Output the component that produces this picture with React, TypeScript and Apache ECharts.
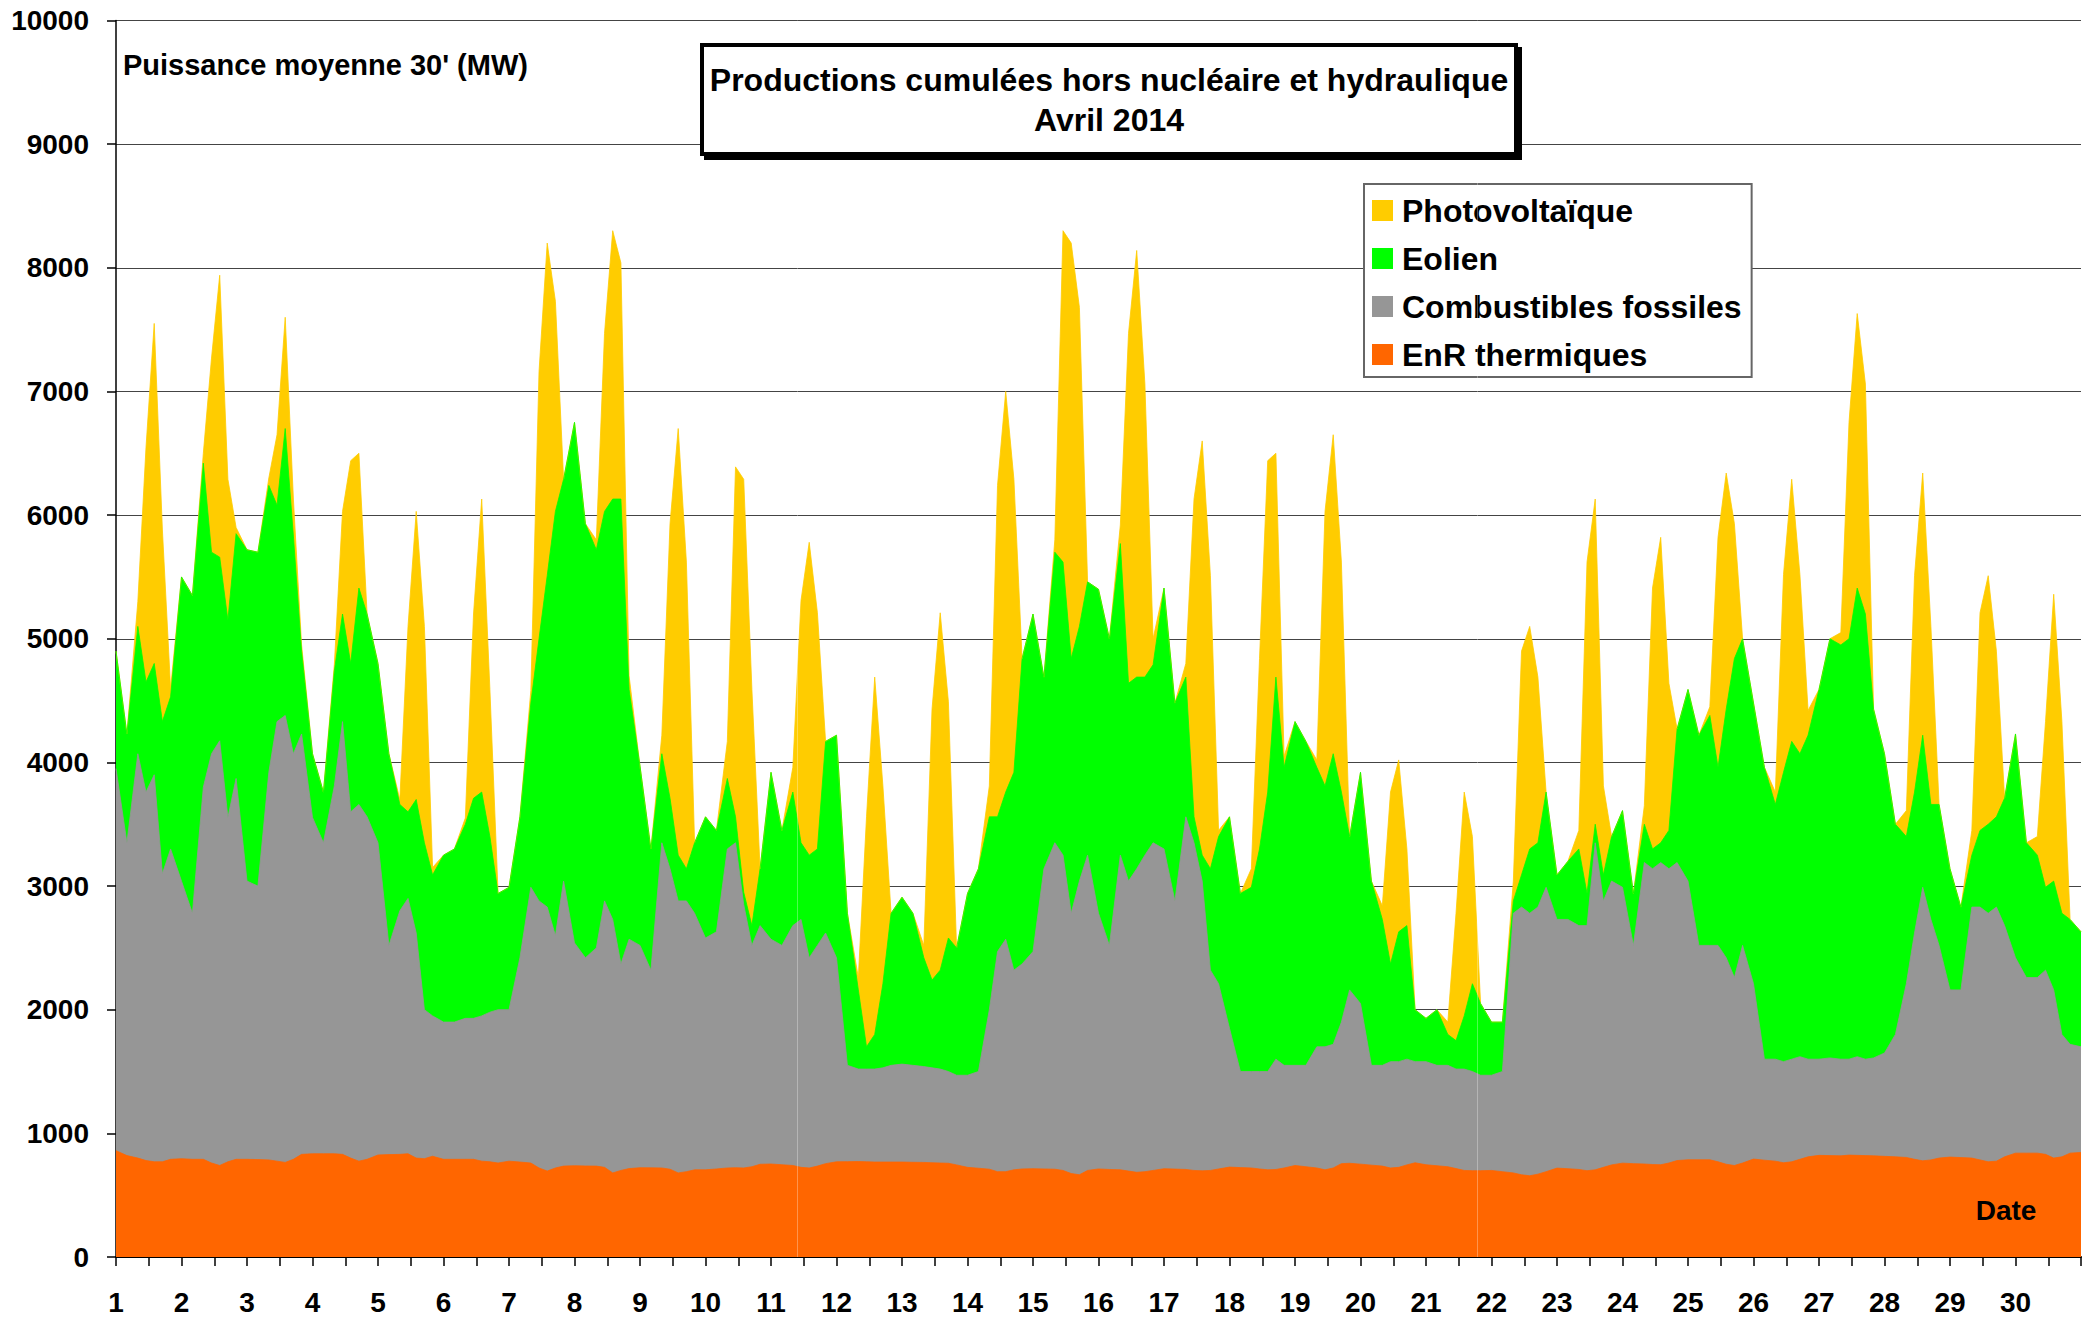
import React, { useEffect, useRef } from "react";
import * as echarts from "echarts";

// Days of April 2014 and the sampled hours of each day
const DAYS = [1, 2, 3, 4, 5, 6, 7, 8, 9, 10, 11, 12, 13, 14, 15, 16, 17, 18, 19, 20, 21, 22, 23, 24, 25, 26, 27, 28, 29, 30];
const HOURS = [0, 4, 8, 11, 14, 17, 20];
const LAST_DAY_END = 31;

// MW, one row per day (hours 0, 4, 8, 11, 14, 17, 20), final value = 1 May 00:00
const ENR_THERMIQUES = [
  860, 820, 800, 780, 770, 770, 790,
  795, 790, 790, 760, 740, 770, 790,
  790, 788, 785, 775, 765, 790, 830,
  835, 835, 835, 830, 800, 775, 790,
  825, 828, 830, 835, 800, 795, 815,
  790, 790, 790, 790, 775, 770, 760,
  775, 768, 760, 720, 695, 720, 735,
  738, 736, 735, 725, 680, 700, 715,
  722, 721, 720, 710, 680, 690, 705,
  705, 712, 720, 722, 720, 730, 750,
  752, 746, 740, 725, 720, 735, 755,
  770, 771, 772, 770, 768, 768, 768,
  768, 766, 765, 762, 760, 758, 745,
  725, 718, 710, 690, 690, 705, 712,
  714, 712, 710, 700, 675, 665, 700,
  712, 708, 705, 695, 685, 690, 700,
  714, 711, 708, 700, 697, 700, 712,
  727, 723, 720, 712, 705, 708, 720,
  740, 730, 720, 705, 720, 755, 758,
  751, 743, 735, 720, 725, 745, 762,
  746, 738, 730, 715, 700, 698, 698,
  700, 690, 680, 665, 657, 670, 690,
  719, 714, 708, 698, 705, 725, 745,
  759, 755, 752, 748, 746, 760, 780,
  786, 786, 786, 770, 750, 740, 760,
  792, 783, 775, 762, 770, 790, 810,
  822, 820, 818, 824, 822, 820, 818,
  814, 810, 805, 790, 778, 785, 800,
  808, 804, 800, 785, 770, 775, 810,
  840, 840, 840, 830, 800, 810, 840,
  846,
];

const COMBUSTIBLES_FOSSILES = [
  3090, 2530, 3270, 2980, 3130, 2330, 2510,
  2245, 1990, 3010, 3310, 3435, 2785, 3080,
  2250, 2212, 3135, 3555, 3615, 3280, 3400,
  2720, 2515, 2975, 3500, 2800, 2885, 2770,
  2525, 1692, 1970, 2065, 1820, 1205, 1135,
  1110, 1110, 1140, 1140, 1175, 1210, 1240,
  1225, 1652, 2230, 2160, 2135, 1880, 2305,
  1802, 1684, 1765, 2155, 2050, 1670, 1855,
  1798, 1599, 2630, 2430, 2200, 2190, 2075,
  1875, 1918, 2580, 2628, 2130, 1790, 1930,
  1818, 1774, 1940, 2005, 1700, 1785, 1865,
  1650, 779, 748, 750, 752, 762, 782,
  792, 784, 775, 768, 760, 742, 725,
  745, 782, 1290, 1780, 1880, 1615, 1658,
  1756, 2428, 2640, 2550, 2105, 2375, 2550,
  2068, 1812, 2545, 2345, 2455, 2560, 2650,
  2586, 2169, 2852, 2650, 2343, 1620, 1498,
  1123, 777, 780, 788, 795, 892, 830,
  810, 820, 980, 995, 1000, 1145, 1402,
  1299, 807, 815, 860, 855, 855, 818,
  834, 812, 820, 805, 820, 802, 772,
  770, 810, 2100, 2165, 2123, 2160, 2300,
  2011, 2016, 1972, 1982, 2645, 2155, 2295,
  2231, 1765, 2438, 2392, 2444, 2380, 2410,
  2254, 1734, 1734, 1750, 1670, 1520, 1760,
  1418, 817, 825, 818, 830, 830, 790,
  778, 790, 782, 776, 798, 780, 792,
  836, 990, 1405, 1830, 2212, 1945, 1720,
  1352, 1356, 2030, 2045, 2010, 2055, 1870,
  1580, 1420, 1420, 1490, 1360, 990, 880,
  854,
];

const EOLIEN = [
  950, 880, 1030, 890, 900, 1230, 1230,
  2460, 2570, 2620, 1630, 1485, 1595, 1980,
  2680, 2700, 2320, 1750, 2320, 1760, 670,
  515, 410, 930, 870, 1200, 1750, 1640,
  1450, 1550, 860, 700, 1080, 1350, 1140,
  1350, 1400, 1570, 1780, 1810, 1420, 940,
  990, 1140, 1490, 2120, 2680, 3430, 3250,
  4210, 3510, 3220, 3150, 3400, 3760, 2020,
  1450, 980, 720, 570, 370, 260, 570,
  980, 820, 570, 210, 100, 160, 460,
  1350, 930, 1080, 620, 830, 780, 1550,
  1800, 1230, 640, 180, 280, 680, 1230,
  1350, 1230, 880, 710, 800, 1080, 1030,
  1470, 1640, 1560, 1090, 1190, 1600, 2470,
  2730, 1550, 2350, 2370, 2060, 2060, 2210,
  2620, 2480, 2520, 1600, 1550, 1440, 1440,
  2110, 1600, 1130, 210, 210, 820, 1190,
  1710, 1440, 1490, 1800, 2260, 3090, 2410,
  2780, 2620, 2260, 2110, 2350, 1860, 1240,
  1870, 1490, 1180, 790, 1050, 1080, 420,
  350, 450, 250, 230, 430, 710, 580,
  430, 400, 100, 260, 520, 520, 770,
  360, 470, 620, 260, 150, 210, 360,
  620, 420, 310, 160, 160, 310, 1080,
  1550, 1700, 1860, 1440, 2010, 2580, 2480,
  2270, 2360, 2060, 2340, 2570, 2450, 2620,
  2990, 3390, 3350, 3400, 3790, 3600, 2820,
  2420, 1700, 1190, 1140, 1230, 930, 1140,
  980, 670, 420, 620, 720, 730, 1030,
  1810, 1090, 990, 670, 880, 980, 1010,
  930,
];

const PHOTOVOLTAIQUE = [
  0, 0, 200, 1900, 2750, 1550, 70,
  0, 0, 80, 1570, 2280, 1140, 50,
  0, 0, 60, 570, 900, 300, 50,
  0, 0, 50, 830, 1640, 1090, 0,
  0, 0, 40, 1500, 2330, 1750, 60,
  0, 0, 50, 1490, 2370, 1190, 0,
  0, 0, 100, 2160, 2690, 1700, 0,
  0, 0, 80, 1440, 2170, 1910, 110,
  0, 0, 150, 2220, 3450, 2480, 0,
  0, 0, 300, 2830, 3340, 1910, 0,
  0, 0, 200, 1960, 2530, 1910, 0,
  0, 0, 100, 1860, 2890, 1600, 0,
  0, 0, 100, 2190, 2890, 1910, 0,
  0, 0, 250, 2680, 3240, 2370, 0,
  0, 0, 100, 2680, 3360, 2580, 0,
  0, 0, 150, 2830, 3450, 2370, 210,
  0, 0, 110, 2570, 3350, 2370, 50,
  0, 0, 150, 1540, 2680, 1810, 90,
  0, 0, 60, 2220, 2580, 1860, 0,
  0, 0, 110, 1390, 1390, 620, 0,
  0, 0, 100, 1030, 1810, 1190, 0,
  0, 0, 160, 1810, 1800, 1340, 0,
  0, 0, 150, 2680, 2630, 720, 0,
  0, 0, 150, 2110, 2470, 1190, 0,
  0, 0, 70, 1860, 1910, 1090, 0,
  0, 0, 100, 1600, 2120, 1450, 200,
  0, 0, 100, 1750, 2220, 1860, 0,
  0, 0, 210, 1750, 2120, 1440, 0,
  0, 0, 200, 1760, 2010, 1340, 0,
  0, 0, 150, 1340, 2320, 1550, 0,
  0,
];

const SERIES_NAMES = ["Photovoltaïque", "Eolien", "Combustibles fossiles", "EnR thermiques"];
const Y_MAX = 10000;
const Y_STEP = 1000;

const FONT = "'Liberation Sans', Arial, sans-serif";

export default function App() {
  const ref = useRef<HTMLDivElement>(null);

  useEffect(() => {
    if (!ref.current) return;
    const chart = echarts.init(ref.current, null, { renderer: "svg" });

    const xs: number[] = [];
    DAYS.forEach((d) => HOURS.forEach((h) => xs.push(d + h / 24)));
    xs.push(LAST_DAY_END);

    // Cumulated production (stack order: EnR, fossiles, éolien, PV)
    const layers = [ENR_THERMIQUES, COMBUSTIBLES_FOSSILES, EOLIEN, PHOTOVOLTAIQUE];
    const tops: number[][] = [];
    layers.forEach((vals, k) => {
      tops.push(vals.map((v, i) => v + (k > 0 ? tops[k - 1][i] : 0)));
    });

    const mk = (name: string, top: number[], color: string, extra: any = {}) => ({
      name,
      type: "line",
      data: xs.map((x, i) => [x, top[i]]),
      showSymbol: false,
      symbol: "none",
      lineStyle: { width: 0.8, color },
      itemStyle: { color },
      areaStyle: { color, opacity: 1, origin: "start" },
      emphasis: { disabled: true },
      silent: true,
      ...extra,
    });

    chart.setOption({
      animation: false,
      backgroundColor: "#fff",
      textStyle: { fontFamily: FONT },
      grid: { left: 116, right: 15, top: 20.5, bottom: 62, containLabel: false },
      xAxis: {
        type: "value",
        min: 1,
        max: LAST_DAY_END,
        interval: 0.5,
        axisLine: { show: true, onZero: false, lineStyle: { color: "#000", width: 2 } },
        axisTick: { show: true, length: 9, lineStyle: { color: "#000", width: 1.5 } },
        axisLabel: {
          formatter: (v: number) => (Number.isInteger(v) && v <= 30 ? String(v) : ""),
          fontSize: 28,
          fontWeight: "bold",
          color: "#000",
          fontFamily: FONT,
          margin: 31,
        },
        splitLine: { show: false },
      },
      yAxis: {
        type: "value",
        min: 0,
        max: Y_MAX,
        interval: Y_STEP,
        axisLine: { show: true, lineStyle: { color: "#000", width: 1.5 } },
        axisTick: { show: true, length: 9, lineStyle: { color: "#000", width: 1.5 } },
        axisLabel: {
          formatter: (v: number) => String(v),
          fontSize: 28,
          fontWeight: "bold",
          color: "#000",
          fontFamily: FONT,
          margin: 27,
        },
        splitLine: { show: true, lineStyle: { color: "#444", width: 1 } },
      },
      legend: {
        orient: "vertical",
        left: 1364,
        top: 184,
        padding: [10, 10, 6, 8],
        itemGap: 15,
        itemWidth: 21,
        itemHeight: 21,
        icon: "rect",
        borderColor: "#666",
        borderWidth: 2,
        backgroundColor: "#fff",
        selectedMode: false,
        data: SERIES_NAMES,
        textStyle: {
          fontSize: 32,
          fontWeight: "bold",
          color: "#000",
          fontFamily: FONT,
          lineHeight: 33,
          padding: [0, 0, 0, 4],
        },
      },
      // drawn back to front: the highest cumulated layer first
      series: [
        mk("Photovoltaïque", tops[3], "#FFCC00"),
        mk("Eolien", tops[2], "#00FF00"),
        mk("Combustibles fossiles", tops[1], "#969696"),
        mk("EnR thermiques", tops[0], "#FF6600", {
          markLine: {
            silent: true,
            symbol: "none",
            label: { show: false },
            lineStyle: { color: "rgba(255,255,255,0.3)", width: 1, type: "solid" },
            data: [{ xAxis: 11.4 }, { xAxis: 21.785 }],
          },
        }),
      ],
      graphic: [
        {
          type: "text",
          z: 100,
          left: 123,
          top: 50,
          style: {
            text: "Puissance moyenne 30' (MW)",
            font: `bold 29px ${FONT}`,
            fill: "#000",
          },
        },
        {
          type: "rect",
          z: 100,
          shape: { x: 706, y: 49, width: 814, height: 109 },
          style: { fill: "#000", stroke: "#000", lineWidth: 4 },
        },
        {
          type: "rect",
          z: 101,
          shape: { x: 702, y: 45, width: 814, height: 109 },
          style: { fill: "#fff", stroke: "#000", lineWidth: 4 },
        },
        {
          type: "text",
          z: 102,
          x: 1109,
          y: 80,
          style: {
            text: "Productions cumulées hors nucléaire et hydraulique",
            font: `bold 32px ${FONT}`,
            fill: "#000",
            align: "center",
            verticalAlign: "middle",
          },
        },
        {
          type: "text",
          z: 102,
          x: 1109,
          y: 120,
          style: {
            text: "Avril 2014",
            font: `bold 32px ${FONT}`,
            fill: "#000",
            align: "center",
            verticalAlign: "middle",
          },
        },
        {
          type: "text",
          z: 100,
          x: 2006,
          y: 1210,
          style: {
            text: "Date",
            font: `bold 28px ${FONT}`,
            fill: "#000",
            align: "center",
            verticalAlign: "middle",
          },
        },
      ],
    });

    return () => chart.dispose();
  }, []);

  return (
    <div
      ref={ref}
      style={{ position: "fixed", left: 0, top: 0, width: "2096px", height: "1319px", background: "#fff" }}
    />
  );
}
